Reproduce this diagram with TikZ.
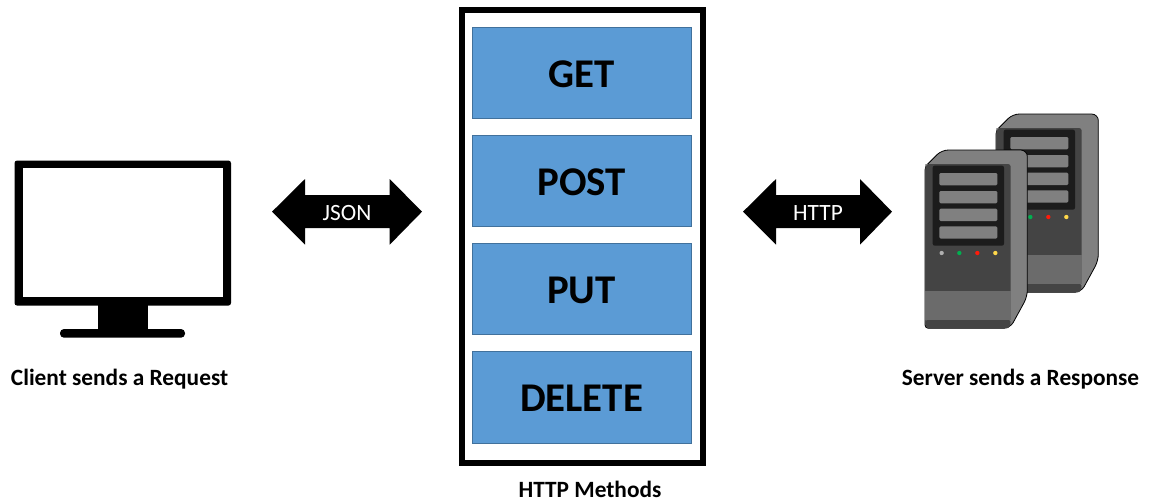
\documentclass[tikz,border=0pt]{standalone}
\usepackage{fontspec}
\setmainfont{Carlito}
\definecolor{blueb}{HTML}{5B9BD5}
\definecolor{blueline}{HTML}{41719C}
\definecolor{srvdark}{HTML}{444444}
\definecolor{srvmid}{HTML}{6B6B6B}
\definecolor{srvlight}{HTML}{808080}
\definecolor{srvscreen}{HTML}{1C1C1C}
\definecolor{ledgray}{HTML}{B0B0B0}
\definecolor{ledgreen}{HTML}{00B050}
\definecolor{ledred}{HTML}{FF1A0A}
\definecolor{ledyellow}{HTML}{FFD84A}
\tikzset{
  method/.style={draw=blueline,line width=0.5pt,fill=blueb,minimum width=164.5pt,minimum height=68.5pt,inner sep=0pt},
  methodtext/.style={inner sep=0pt,font=\fontsize{30.6}{31}\selectfont\bfseries,text=black},
  caption/.style={inner sep=0pt,font=\fontsize{17.5}{20}\selectfont\bfseries,text=black},
  arrowlabel/.style={inner sep=0pt,font=\fontsize{17.5}{20}\selectfont,text=white},
}
\newcommand{\drawserver}[2]{%
 \begin{scope}[shift={(#1,#2)},x=0.25pt,y=-0.25pt]
  \fill[srvlight,draw=black,line width=0.6pt,rounded corners=5pt]
     (105,200)--(155,150)--(412,150)--(412,590)--(360,685)
     [rounded corners=2.5pt]--(105,685)--cycle;
  \fill[srvdark,rounded corners=2pt] (106,192)--(362,192)--(362,600)--(106,600)--cycle;
  \fill[srvlight] (106,199)--(114,192)--(106,192)--cycle;
  \fill[srvmid] (106,572) rectangle (362,660);
  \fill[srvdark,rounded corners=1.5pt] (106,660)--(362,660)--(360,684)--(112,684)--(106,678)--cycle;
  \fill[srvscreen,rounded corners=1.5pt] (128,197) rectangle (342,437);
  \foreach \yy in {219,273,326,379}
    \fill[srvlight,rounded corners=1pt] (148,\yy) rectangle (322,\yy+37);
  \fill[ledgray] (155,459) circle (6.5);
  \fill[ledgreen] (208,459) circle (6.5);
  \fill[ledred] (262,459) circle (6.5);
  \fill[ledyellow] (316,459) circle (6.5);
 \end{scope}}
\begin{document}
\begin{tikzpicture}[x=0.75pt,y=-0.75pt]
\useasboundingbox (0,0) rectangle (1149,501);
\fill[white] (0,0) rectangle (1149,501);
% monitor
\fill[black,rounded corners=2pt] (14.5,160.5) rectangle (231,305.6);
\fill[white] (22.7,168) rectangle (222.7,297);
\fill[black] (97.7,305) rectangle (147.7,331);
\fill[black,rounded corners=3pt] (60,329) rectangle (185,337.7);
\node[caption] (client) at (119.5,379) {Client sends a Request};
% double arrows
\fill[black] (272,211.7)--(305,179)--(305,195)--(389.7,195)--(389.7,179)--(422,211.7)--(389.7,244.7)--(389.7,228)--(305,228)--(305,244.7)--cycle;
\node[arrowlabel] (json) at (347,213) {JSON};
\fill[black] (743,211.7)--(776,179)--(776,195)--(860,195)--(860,179)--(892,211.7)--(860,244.7)--(860,228)--(776,228)--(776,244.7)--cycle;
\node[arrowlabel] (http) at (818,213) {HTTP};
% frame
\draw[black,line width=4.5pt] (461.5,10) rectangle (703,462.5);
\node[method] (get) at (582,73) {};
\node[method] (post) at (582,181) {};
\node[method] (put) at (582,289) {};
\node[method,minimum height=69.25pt] (delete) at (582,397.5) {};
\node[methodtext] (gett) at (581.5,74) {GET};
\node[methodtext] (postt) at (581.5,182) {POST};
\node[methodtext] (putt) at (581.5,290) {PUT};
\node[methodtext] (deletet) at (581.5,398) {DELETE};
\node[caption] (methods) at (590,489) {HTTP Methods};
% servers
\drawserver{961}{64}
\drawserver{890}{100}
\node[caption] (server) at (1020.5,379) {Server sends a Response};
\end{tikzpicture}
\end{document}
